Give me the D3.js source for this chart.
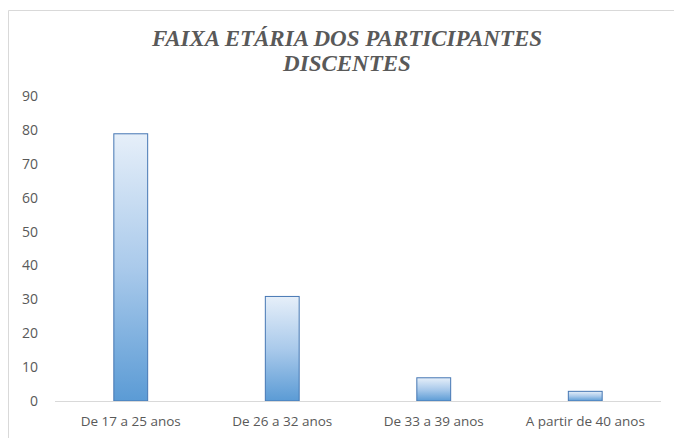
<!DOCTYPE html>
<html>
<head>
<meta charset="utf-8">
<script src="https://cdn.jsdelivr.net/npm/d3@7"></script>
<style>
	html, body { margin: 0; background: #fff; overflow: hidden; }
	svg { display: block; }
	.title { font-family: 'Liberation Serif', 'DejaVu Serif', serif; font-style: italic; font-weight: bold; }
	.lbl { font-family: 'Open Sans', 'Noto Sans', sans-serif; }
</style>
</head>
<body>
<svg id="chart"></svg>
<script>
var categories = ['De 17 a 25 anos', 'De 26 a 32 anos', 'De 33 a 39 anos', 'A partir de 40 anos'];
var values = [79, 31, 7, 3];
var yTicks = [0, 10, 20, 30, 40, 50, 60, 70, 80, 90];
var titleLines = ['FAIXA ETÁRIA DOS PARTICIPANTES', 'DISCENTES'];

(function () {
	'use strict';

	var width = 674,
		height = 438,
		svg = d3.select('svg#chart').attr('width', width).attr('height', height);

	// chart frame (runs off the right and bottom of the picture)
	svg.append('path')
		.attr('d', 'M8.5,' + height + 'V10.5H' + width)
		.attr('fill', 'none')
		.attr('stroke', '#d9d9d9');

	var grad = svg.append('defs').append('linearGradient')
		.attr('id', 'barFill')
		.attr('x1', 0).attr('y1', 0).attr('x2', 0).attr('y2', 1);
	grad.append('stop').attr('offset', '0%').attr('stop-color', '#e6eff9');
	grad.append('stop').attr('offset', '50%').attr('stop-color', '#aacaeb');
	grad.append('stop').attr('offset', '100%').attr('stop-color', '#5b9bd5');

	var x = d3.scaleBand().domain(categories).range([55, 661]).paddingInner(0.77).paddingOuter(0.385);
	var y = d3.scaleLinear().domain([0, 90]).range([401, 96]);

	// title
	svg.append('g').selectAll('text').data(titleLines).enter()
		.append('text')
		.attr('class', 'title')
		.attr('x', 347)
		.attr('y', function (d, i) { return 46 + i * 25; })
		.attr('text-anchor', 'middle')
		.attr('font-size', 23)
		.attr('fill', '#595959')
		.text(function (d) { return d; });

	// y axis labels
	var yAxis = svg.append('g')
		.attr('transform', 'translate(38,0)')
		.call(d3.axisLeft(y).tickValues(yTicks).tickSize(0).tickPadding(0));
	yAxis.select('.domain').remove();
	yAxis.selectAll('text')
		.attr('class', 'lbl')
		.attr('font-size', 14)
		.attr('fill', '#595959');

	// bars
	svg.append('g').selectAll('rect').data(values).enter()
		.append('rect')
		.attr('x', function (d, i) { return x(categories[i]) + 0.5; })
		.attr('y', function (d) { return y(d) + 0.5; })
		.attr('width', x.bandwidth() - 1)
		.attr('height', function (d) { return y(0) - y(d) - 0.5; })
		.attr('fill', 'url(#barFill)')
		.attr('stroke', '#4677b3')
		.attr('stroke-width', 1);

	// x axis
	var xAxis = svg.append('g')
		.attr('transform', 'translate(0,' + (y(0) + 0.5) + ')')
		.call(d3.axisBottom(x).tickSize(0).tickPadding(15));
	xAxis.select('.domain').attr('stroke', '#d9d9d9').attr('d', 'M55,0H661');
	xAxis.selectAll('text')
		.attr('class', 'lbl')
		.attr('font-size', 13.5)
		.attr('fill', '#595959');
})();
</script>
</body>
</html>
